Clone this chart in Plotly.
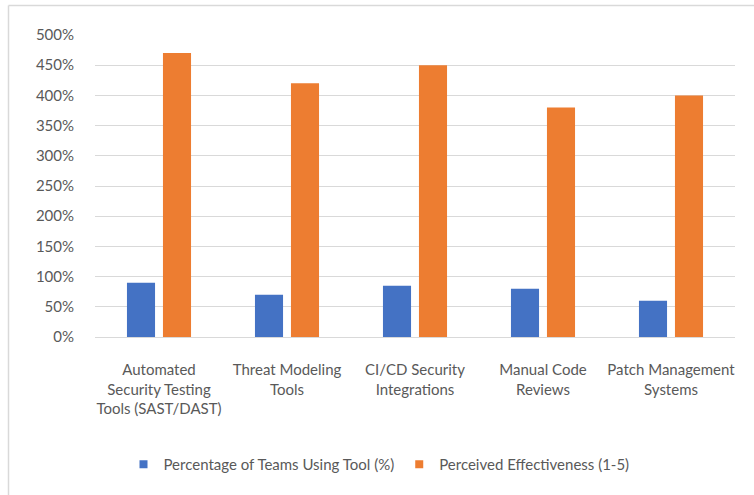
import plotly.graph_objects as go

categories = [
    "Automated<br>Security Testing<br>Tools (SAST/DAST)",
    "Threat Modeling<br>Tools",
    "CI/CD Security<br>Integrations",
    "Manual Code<br>Reviews",
    "Patch Management<br>Systems",
]
series_names = ["Percentage of Teams Using Tool (%)", "Perceived Effectiveness (1-5)"]
usage_pct = [0.90, 0.70, 0.85, 0.80, 0.60]
effectiveness = [4.7, 4.2, 4.5, 3.8, 4.0]
y_ticks = [0, 0.5, 1.0, 1.5, 2.0, 2.5, 3.0, 3.5, 4.0, 4.5, 5.0]
colors = ["#4472C4", "#ED7D31"]

W, H = 754, 495
L, R, T, B = 95, 19, 35, 158
pw, ph = W - L - R, H - T - B

def px_x(x):
    return (x - L) / pw

def px_y(y):
    return (H - B - y) / ph

text_font = dict(family="Lato, 'Open Sans', sans-serif", size=15, color="#595959")

fig = go.Figure()
for name, vals, col in zip(series_names, [usage_pct, effectiveness], colors):
    fig.add_trace(go.Bar(
        x=categories, y=vals, name=name, showlegend=False,
        marker=dict(color=col, line=dict(width=0)),
    ))
# small square legend keys
for name, col in zip(series_names, colors):
    fig.add_trace(go.Scatter(
        x=[None], y=[None], mode="markers", name=name,
        marker=dict(symbol="square", size=8, color=col),
    ))

frame = dict(type="line", xref="paper", yref="paper",
             line=dict(color="#d9d9d9", width=1.5), layer="below")

fig.update_layout(
    width=W, height=H,
    margin=dict(l=L, r=R, t=T, b=B),
    paper_bgcolor="white", plot_bgcolor="white",
    barmode="group", bargap=0.4375, bargroupgap=0.22,
    font=text_font,
    showlegend=True,
    legend=dict(
        orientation="h", x=px_x(379), xanchor="center",
        y=px_y(464.5), yanchor="middle",
        font=text_font, itemwidth=30, tracegroupgap=0,
    ),
    xaxis=dict(
        showgrid=False, showline=True, linecolor="#d9d9d9", linewidth=1,
        ticks="", tickfont=text_font, ticklabelstandoff=19, tickangle=0,
        zeroline=False,
    ),
    yaxis=dict(
        range=[0, 5], tickvals=y_ticks, tickformat=".0%",
        showgrid=True, gridcolor="#d9d9d9", gridwidth=1,
        zeroline=False, showline=False, ticks="",
        tickfont=text_font, ticklabelstandoff=20,
    ),
    shapes=[
        dict(frame, x0=px_x(8.5), x1=px_x(754), y0=px_y(5.5), y1=px_y(5.5)),
        dict(frame, x0=px_x(8.5), x1=px_x(8.5), y0=px_y(5.5), y1=px_y(495)),
    ],
)

fig.write_html("out.html", config={"displayModeBar": False})
